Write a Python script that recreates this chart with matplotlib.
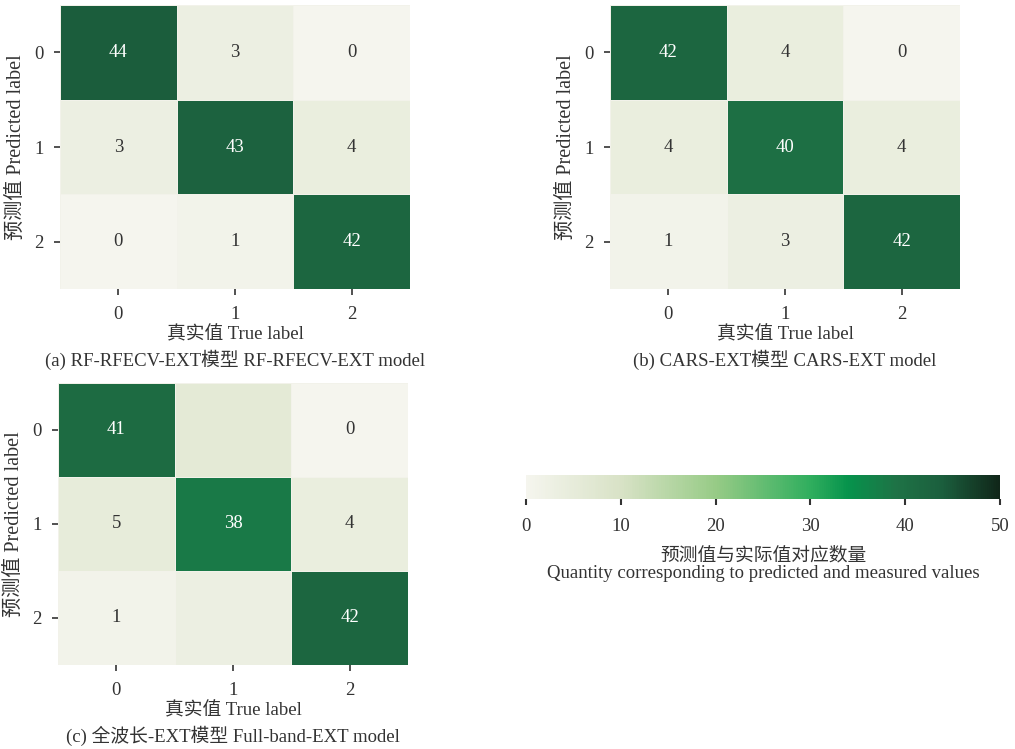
import matplotlib
matplotlib.use("Agg")
import matplotlib.pyplot as plt
import matplotlib.colors as mcolors
import numpy as np

# ─── DATA ────────────────────────────────────────────────────────────────────
class_labels = ["0", "1", "2"]

cm_rfecv = [[44, 3, 0],
            [3, 43, 4],
            [0, 1, 42]]
cm_cars = [[42, 4, 0],
           [4, 40, 4],
           [1, 3, 42]]
cm_full = [[41, 6, 0],
           [5, 38, 4],
           [1, 3, 42]]
# cells printed without a number in panel (c)
full_hidden = [(0, 1), (2, 1)]

titles = ["(a) RF-RFECV-EXT模型 RF-RFECV-EXT model",
          "(b) CARS-EXT模型 CARS-EXT model",
          "(c) 全波长-EXT模型 Full-band-EXT model"]
xlabel = "真实值 True label"
ylabel = "预测值 Predicted label"
cbar_label = "预测值与实际值对应数量\nQuantity corresponding to predicted and measured values"
vmin, vmax = 0, 50
cbar_ticks = [0, 10, 20, 30, 40, 50]
# ─────────────────────────────────────────────────────────────────────────────

plt.rcParams["font.family"] = ["Liberation Serif", "Noto Sans CJK SC"]
TXT = "#333333"
FS = 13.5

cmap = mcolors.LinearSegmentedColormap.from_list("greens_custom", [
    (0.00, "#f5f5ee"),
    (0.20, "#d8e2c6"),
    (0.40, "#97cb86"),
    (0.60, "#30ae5e"),
    (0.68, "#06934c"),
    (0.78, "#1e7346"),
    (0.88, "#1b5e3d"),
    (1.00, "#102619"),
])
norm = mcolors.Normalize(vmin=vmin, vmax=vmax)

W, H = 1015, 749
fig = plt.figure(figsize=(W / 100, H / 100), dpi=100)


def px_axes(left, top, right, bottom):
    return fig.add_axes([left / W, 1 - bottom / H, (right - left) / W, (bottom - top) / H])


def draw_matrix(ax, mat, title, hidden=()):
    mat = np.array(mat)
    n = mat.shape[0]
    ax.pcolormesh(np.arange(n + 1), np.arange(n + 1), mat, cmap=cmap, norm=norm,
                  edgecolors="#f2f2ea", linewidth=0.6)
    ax.set_xlim(0, n)
    ax.set_ylim(n, 0)
    for i in range(n):
        for j in range(n):
            if (i, j) in hidden:
                continue
            v = mat[i, j]
            col = "white" if v > 25 else TXT
            ax.text(j + 0.5, i + 0.5, str(v), ha="center", va="center",
                    fontsize=FS, color=col)
    ax.set_xticks(np.arange(n) + 0.5)
    ax.set_yticks(np.arange(n) + 0.5)
    ax.set_xticklabels(class_labels)
    ax.set_yticklabels(class_labels)
    for s in ax.spines.values():
        s.set_visible(False)
    ax.tick_params(length=4, width=1.2, color=TXT, labelcolor=TXT, labelsize=FS, pad=8)
    ax.set_xlabel(xlabel, fontsize=FS, color=TXT, labelpad=2)
    ax.set_ylabel(ylabel, fontsize=FS + 1, color=TXT, labelpad=6)
    # caption about 71 px below the bottom of the matrix
    ax.annotate(title, xy=(0.5, 0), xycoords="axes fraction", xytext=(0, -51),
                textcoords="offset points", ha="center", va="center",
                fontsize=FS, color=TXT)


ax_a = px_axes(60, 5, 410, 289)
ax_b = px_axes(610, 5, 960, 289)
ax_c = px_axes(58, 383, 408, 665)
draw_matrix(ax_a, cm_rfecv, titles[0])
draw_matrix(ax_b, cm_cars, titles[1])
draw_matrix(ax_c, cm_full, titles[2], hidden=full_hidden)

# shared colour scale
cax = px_axes(526, 475, 1000, 499)
sm = plt.cm.ScalarMappable(norm=norm, cmap=cmap)
cb = fig.colorbar(sm, cax=cax, orientation="horizontal", ticks=cbar_ticks)
cb.outline.set_visible(False)
cb.ax.tick_params(length=4, width=1.5, color=TXT, labelcolor=TXT, labelsize=FS, pad=10)
cb.set_label(cbar_label, fontsize=FS, color=TXT, labelpad=8, linespacing=1.05)

fig.savefig("out.png", dpi=100, facecolor="white")
